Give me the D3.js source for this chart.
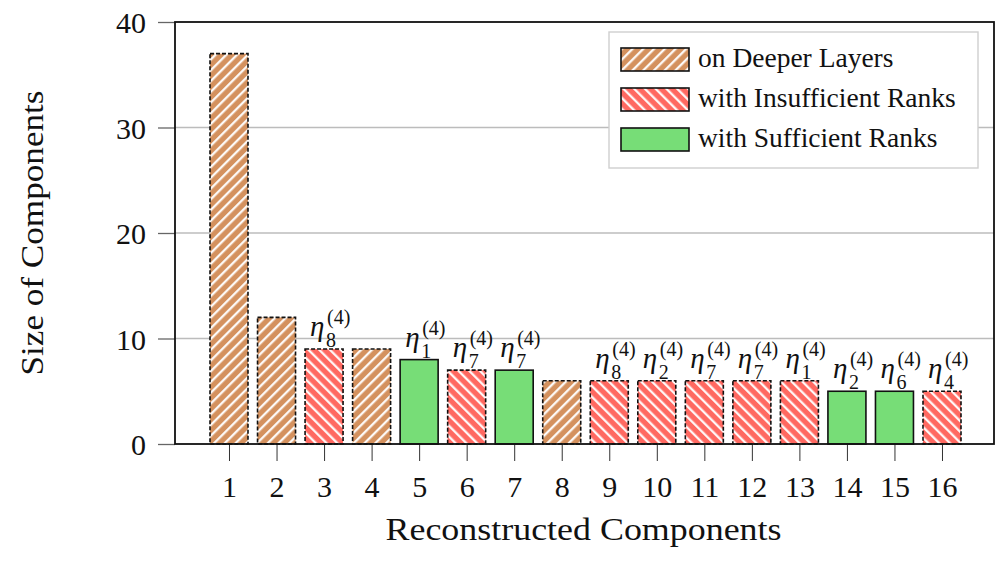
<!DOCTYPE html>
<html>
<head>
<meta charset="utf-8">
<script src="https://cdn.jsdelivr.net/npm/d3@7"></script>
<style>
  body { margin: 0; background: #fff; }
  svg { display: block; }
  text { font-family: "Liberation Serif", "Times New Roman", serif; fill: #111; }
</style>
</head>
<body>
<svg id="chart" width="996" height="561"></svg>
<script>
// ---- data ----
const components = [1,2,3,4,5,6,7,8,9,10,11,12,13,14,15,16];
const sizes      = [37,12,9,9,8,7,7,6,6,6,6,6,6,5,5,5];
const kinds      = ["deep","deep","insuf","deep","suf","insuf","suf","deep","insuf","insuf","insuf","insuf","insuf","suf","suf","insuf"];
const etaIndex   = [null,null,8,null,1,7,7,null,8,2,7,7,1,2,6,4];
const yTicks     = [0,10,20,30,40];
const legendKeys = ["deep","insuf","suf"];
const legendLabels = ["on Deeper Layers","with Insufficient Ranks","with Sufficient Ranks"];

const colors = { deep: "#d4915e", insuf: "#ff6961", suf: "#77dd77" };

const svg = d3.select("#chart");
const L = 175, R = 994, T = 22, B = 444;

const x = d3.scaleLinear().domain([-0.136, 17.094]).range([L, R]);
const y = d3.scaleLinear().domain([0, 40]).range([B, T]);
const barW = 38;

// patterns
const defs = svg.append("defs");
function hatch(id, color, angle) {
  const p = defs.append("pattern").attr("id", id)
    .attr("patternUnits", "userSpaceOnUse")
    .attr("width", 7.6).attr("height", 10)
    .attr("patternTransform", `rotate(${angle})`);
  p.append("rect").attr("width", 7.6).attr("height", 10).attr("fill", color);
  p.append("line").attr("x1", 1.2).attr("x2", 1.2).attr("y1", 0).attr("y2", 10)
    .attr("stroke", "#fff").attr("stroke-width", 2.2);
}
hatch("hatch-deep", colors.deep, 45);
hatch("hatch-insuf", colors.insuf, -45);
const fillFor = k => k === "deep" ? "url(#hatch-deep)" : k === "insuf" ? "url(#hatch-insuf)" : colors.suf;

// grid lines
svg.append("g").selectAll("line").data(yTicks.filter(t => t > 0 && t < 40)).join("line")
  .attr("x1", L).attr("x2", R).attr("y1", d => y(d)).attr("y2", d => y(d))
  .attr("stroke", "#bcbcbc").attr("stroke-width", 1.6);

// y axis ticks & labels
const yAxis = d3.axisLeft(y).tickValues(yTicks).tickSize(17).tickPadding(12);
const gy = svg.append("g").attr("transform", `translate(${L},0)`).call(yAxis);
gy.select(".domain").remove();
gy.selectAll("line").attr("stroke", "#666").attr("stroke-width", 1.3);
gy.selectAll("text").attr("font-size", 30).attr("font-family", "Liberation Serif").attr("fill", "#111").attr("dy", "0.35em");

// x axis ticks & labels
const xAxis = d3.axisBottom(x).tickValues(components).tickSize(17).tickPadding(13).tickFormat(d3.format("d"));
const gx = svg.append("g").attr("transform", `translate(0,${B})`).call(xAxis);
gx.select(".domain").remove();
gx.selectAll("line").attr("stroke", "#333").attr("stroke-width", 1);
gx.selectAll("text").attr("font-size", 30).attr("font-family", "Liberation Serif").attr("fill", "#111").attr("dy", "0.75em");

// bars
const data = components.map((c, i) => ({ c, v: sizes[i], k: kinds[i], eta: etaIndex[i] }));
const bars = svg.append("g");
bars.selectAll("rect").data(data).join("rect")
  .attr("x", d => x(d.c) - barW / 2).attr("width", barW)
  .attr("y", d => y(d.v)).attr("height", d => y(0) - y(d.v))
  .attr("fill", d => fillFor(d.k))
  .attr("stroke", "#111").attr("stroke-width", 1.6)
  .attr("stroke-dasharray", d => d.k === "suf" ? null : "4,2");

// eta labels (one text element each: η, subscript, superscript)
const lab = svg.append("g").selectAll("text").data(data.filter(d => d.eta !== null)).join("text")
  .attr("transform", d => `translate(${x(d.c)},${y(d.v)})`)
  .attr("x", -14).attr("y", -13);
lab.append("tspan").attr("font-size", 29).attr("font-style", "italic").text("η");
lab.append("tspan").attr("x", 2).attr("y", -2).attr("font-size", 20).text(d => d.eta);
lab.append("tspan").attr("x", 3).attr("y", -25).attr("font-size", 20).text("(4)");

// frame
svg.append("rect").attr("x", L).attr("y", T).attr("width", R - L).attr("height", B - T)
  .attr("fill", "none").attr("stroke", "#111").attr("stroke-width", 1.8);

// legend
const lg = svg.append("g");
lg.append("rect").attr("x", 609).attr("y", 32).attr("width", 369).attr("height", 136)
  .attr("fill", "#fff").attr("stroke", "#cfcfcf").attr("stroke-width", 1.4);
const rows = lg.selectAll("g.row").data(legendKeys).join("g").attr("class", "row")
  .attr("transform", (d, i) => `translate(621,${48 + i * 40})`);
rows.append("rect").attr("width", 68).attr("height", 23)
  .attr("fill", d => fillFor(d)).attr("stroke", "#111").attr("stroke-width", 1.6);
rows.append("text").attr("x", 77).attr("y", 19).attr("font-size", 27.5)
  .text((d, i) => legendLabels[i]);

// axis titles
svg.append("text").attr("x", (L + R) / 2 - 1).attr("y", 540).attr("text-anchor", "middle")
  .attr("font-size", 32).attr("textLength", 396).attr("lengthAdjust", "spacingAndGlyphs")
  .text("Reconstructed Components");
svg.append("text").attr("transform", `translate(43,${(T + B) / 2}) rotate(-90)`)
  .attr("text-anchor", "middle").attr("font-size", 32)
  .attr("textLength", 285).attr("lengthAdjust", "spacingAndGlyphs")
  .text("Size of Components");
</script>
</body>
</html>
